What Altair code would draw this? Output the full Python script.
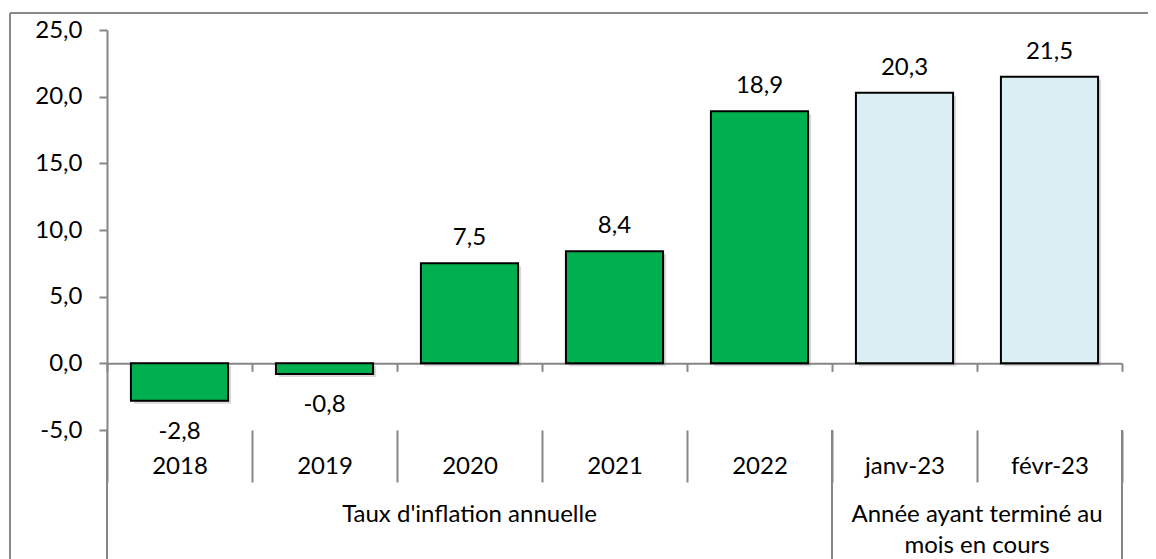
import altair as alt
import pandas as pd

# ---- data ----
categories = ["2018", "2019", "2020", "2021", "2022", "janv-23", "févr-23"]
values = [-2.8, -0.8, 7.5, 8.4, 18.9, 20.3, 21.5]
series = ["annuel", "annuel", "annuel", "annuel", "annuel", "mensuel", "mensuel"]
group_labels = ["Taux d'inflation annuelle", "Année ayant terminé au\nmois en cours"]
group_sizes = [5, 2]
y_ticks = [-5, 0, 5, 10, 15, 20, 25]

# ---- layout / style ----
W, H = 1015, 400
Y_MIN, Y_MAX = -5, 25
GRAY = "#868686"
FRAME = "#8a8a8a"
GREEN = "#00B050"
LIGHTBLUE = "#DAEEF3"
FONT = "Lato"
FS = 24
BAR_FRAC = 0.67

zero_offset = -(H * (0 - Y_MIN) / (Y_MAX - Y_MIN))
fmt = "replace(replace(format({}, '.1f'), '.', ','), '\u2212', '-')"

df = pd.DataFrame({"cat": categories, "v": values, "s": series})
starts = [sum(group_sizes[:i]) for i in range(len(group_sizes))]
gdf = pd.DataFrame({"g": group_labels,
                    "mid": [s + n / 2 for s, n in zip(starts, group_sizes)]})
bdf = pd.DataFrame({"b": [0] + [s + n for s, n in zip(starts, group_sizes)]})
one = pd.DataFrame({"k": [0]})

xscale = alt.Scale(domain=categories, paddingInner=0, paddingOuter=0)
yscale = alt.Scale(domain=[Y_MIN, Y_MAX], nice=False)
qscale = alt.Scale(domain=[0, len(categories)], nice=False, zero=False)

zero_axis = alt.Axis(orient="bottom", offset=zero_offset, labels=False,
                     tickBand="extent", tickSize=8, tickColor=GRAY, tickWidth=2,
                     domainColor=GRAY, domainWidth=2, title=None)
cat_axis = alt.Axis(orient="bottom", offset=0, domain=False, tickBand="extent",
                    tickSize=52, tickColor=GRAY, tickWidth=2, labelAngle=0,
                    labelBaseline="alphabetic", labelPadding=-9,
                    labelFont=FONT, labelFontSize=FS, labelColor="black",
                    title=None)
y_axis = alt.Axis(values=y_ticks, labelExpr=fmt.format("datum.value"),
                  grid=False, tickSize=8, tickColor=GRAY, tickWidth=2,
                  domainColor=GRAY, domainWidth=2, labelPadding=17,
                  labelFont=FONT, labelFontSize=FS, labelColor="black",
                  title=None)

shadow = alt.Chart(df).mark_bar(color="#808080", opacity=0.3,
                                width=alt.RelativeBandSize(BAR_FRAC),
                                xOffset=3, x2Offset=3, yOffset=3,
                                y2Offset=3).encode(
    x=alt.X("cat:N", sort=categories, scale=xscale, axis=None),
    y=alt.Y("v:Q", scale=yscale, axis=y_axis),
)

bars = alt.Chart(df).mark_bar(stroke="black", strokeWidth=2,
                              width=alt.RelativeBandSize(BAR_FRAC)).encode(
    x=alt.X("cat:N", sort=categories, scale=xscale, axis=zero_axis),
    y=alt.Y("v:Q", scale=yscale, axis=y_axis),
    color=alt.Color("s:N", scale=alt.Scale(domain=["annuel", "mensuel"],
                                           range=[GREEN, LIGHTBLUE]),
                    legend=None),
)

pos_labels = alt.Chart(df).transform_filter("datum.v >= 0").transform_calculate(
    lab=fmt.format("datum.v")
).mark_text(font=FONT, fontSize=FS, baseline="alphabetic", dy=-18,
            color="black").encode(
    x=alt.X("cat:N", sort=categories, scale=xscale, axis=cat_axis),
    y=alt.Y("v:Q", scale=yscale, axis=y_axis),
    text="lab:N",
)

neg_labels = alt.Chart(df).transform_filter("datum.v < 0").transform_calculate(
    lab=fmt.format("datum.v")
).mark_text(font=FONT, fontSize=FS, baseline="alphabetic", dy=38,
            color="black").encode(
    x=alt.X("cat:N", sort=categories, scale=xscale, axis=None),
    y=alt.Y("v:Q", scale=yscale, axis=y_axis),
    text="lab:N",
)

group_text = alt.Chart(gdf).mark_text(font=FONT, fontSize=FS,
                                      baseline="alphabetic", lineBreak="\n",
                                      lineHeight=31, color="black").encode(
    x=alt.X("mid:Q", scale=qscale, axis=None),
    y=alt.value(H + 92),
    text="g:N",
)

group_seps = alt.Chart(bdf).mark_rule(color=GRAY, strokeWidth=2).encode(
    x=alt.X("b:Q", scale=qscale, axis=None),
    y=alt.value(H),
    y2=alt.value(H + 140),
)

frame_left = alt.Chart(one).mark_rule(color=FRAME, strokeWidth=2).encode(
    x=alt.value(-97), y=alt.value(-17), y2=alt.value(H + 140))
frame_top = alt.Chart(one).mark_rule(color=FRAME, strokeWidth=2).encode(
    x=alt.value(-97), x2=alt.value(1060), y=alt.value(-17))

chart = alt.layer(
    frame_left, frame_top, shadow, bars, pos_labels, neg_labels,
    group_seps, group_text
).resolve_scale(x="independent").resolve_axis(x="independent").properties(
    width=W, height=H,
    background="white",
    autosize=alt.AutoSizeParams(type="none"),
    padding={"left": 99, "top": 22, "right": 26, "bottom": 138},
).configure_view(stroke=None)

chart.save("out.html", embed_options={"renderer": "svg", "actions": False})
